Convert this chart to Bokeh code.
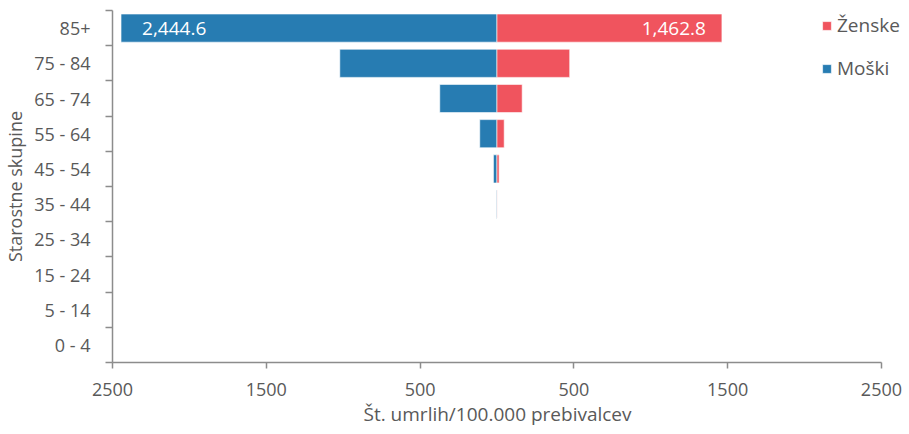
from bokeh.plotting import figure
from bokeh.models import (ColumnDataSource, FixedTicker, Legend, LegendItem, Range1d, Title)
from bokeh.core.properties import value
from bokeh.embed import file_html
from bokeh.resources import INLINE

# ---- data ----
age_groups = ["0 - 4", "5 - 14", "15 - 24", "25 - 34", "35 - 44",
              "45 - 54", "55 - 64", "65 - 74", "75 - 84", "85+"]
moski = [0, 0, 0, 0, 5, 23, 112, 372, 1022, 2444.6]
zenske = [0, 0, 0, 0, 1, 14, 47, 164, 473, 1462.8]
x_ticks = [-2500, -1500, -500, 500, 1500, 2500]
x_tick_labels = ["2500", "1500", "500", "500", "1500", "2500"]
x_title = "Št. umrlih/100.000 prebivalcev"
y_title = "Starostne skupine"

BLUE = "#277CB2"
RED = "#F0545E"
GREY_TEXT = "#595959"
AXIS = "#8C8C8C"
FONT = "Open Sans"

ypos = [i + 0.5 for i in range(len(age_groups))]
src = ColumnDataSource(dict(
    y=ypos,
    m_left=[-v for v in moski], zero=[0] * len(moski),
    f_right=zenske,
))

p = figure(frame_width=792, frame_height=352,
           min_border_left=108, min_border_right=0,
           min_border_top=10, min_border_bottom=64,
           x_range=Range1d(-2500, 2650), y_range=Range1d(0, len(age_groups)),
           output_backend="svg", toolbar_location=None)
p.outline_line_color = None
p.xgrid.visible = False
p.ygrid.visible = False

r_m = p.hbar(y="y", left="m_left", right="zero", height=0.8, source=src,
             fill_color=BLUE, line_color="white", line_alpha=0.6, line_width=1)
r_f = p.hbar(y="y", left="zero", right="f_right", height=0.8, source=src,
             fill_color=RED, line_color="white", line_alpha=0.6, line_width=1)

# value labels for the top group
top = len(age_groups) - 1
p.text(x=[-moski[top]], y=[ypos[top]], text=[f"{moski[top]:,.1f}"],
       text_color="white", text_font=value(FONT), text_font_size="19px",
       text_align="left", text_baseline="middle", x_offset=21)
p.text(x=[zenske[top]], y=[ypos[top]], text=[f"{zenske[top]:,.1f}"],
       text_color="white", text_font=value(FONT), text_font_size="19px",
       text_align="right", text_baseline="middle", x_offset=-16)

# x axis
xa = p.xaxis[0]
xa.ticker = FixedTicker(ticks=x_ticks)
xa.bounds = (-2500, 2500)
xa.major_label_overrides = {t: l for t, l in zip(x_ticks, x_tick_labels)}
for ax in (p.xaxis[0], p.yaxis[0]):
    ax.axis_line_color = AXIS
    ax.axis_line_width = 1.5
    ax.major_label_text_color = GREY_TEXT
    ax.major_label_text_font = FONT
    ax.major_label_text_font_size = "18px"
    ax.axis_label_text_color = GREY_TEXT
    ax.axis_label_text_font = FONT
    ax.axis_label_text_font_style = "normal"
xa.major_tick_line_color = AXIS
xa.major_tick_line_width = 1.5
xa.major_tick_out = 6
xa.major_tick_in = 0
xa.minor_tick_line_color = None
xa.major_label_standoff = 14

# x axis title, placed under the axis
xt = Title(text=x_title, align="left", offset=251, standoff=0,
           text_font=FONT, text_font_size="19px", text_font_style="normal",
           text_color=GREY_TEXT)
p.add_layout(xt, "below")

ya = p.yaxis[0]
ya.ticker = FixedTicker(ticks=ypos, minor_ticks=list(range(len(age_groups) + 1)))
ya.major_label_overrides = {y: g for y, g in zip(ypos, age_groups)}
ya.major_tick_line_color = None
ya.major_tick_out = 0
ya.minor_tick_line_color = AXIS
ya.minor_tick_line_width = 1.5
ya.minor_tick_out = 7
ya.minor_tick_in = 0
ya.major_label_standoff = 15
ya.axis_label = y_title
ya.axis_label_text_font_size = "18px"
ya.axis_label_standoff = 4

legend = Legend(items=[LegendItem(label="Ženske", renderers=[r_f]),
                       LegendItem(label="Moški", renderers=[r_m])],
                location=(709, 281), orientation="vertical",
                background_fill_alpha=0, border_line_color=None,
                label_text_font=FONT, label_text_font_size="19px",
                label_text_color=GREY_TEXT, glyph_width=11, glyph_height=11,
                spacing=17, padding=0, margin=0, label_standoff=5)
p.add_layout(legend, "center")

open("out.html", "w").write(file_html(p, INLINE))
